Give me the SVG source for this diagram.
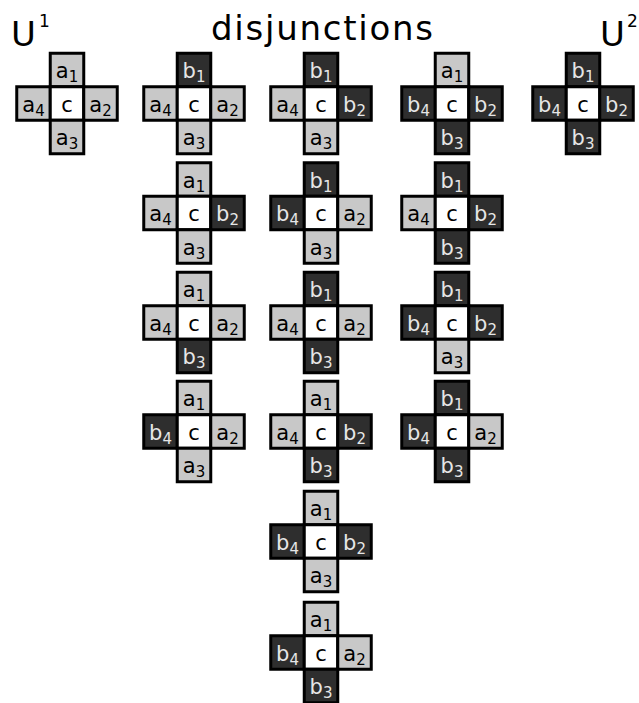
<svg xmlns="http://www.w3.org/2000/svg" width="639" height="703" viewBox="0 0 639 703">
<style>
text{font-family:"DejaVu Sans","Liberation Sans",sans-serif}
rect{stroke:#000;stroke-width:3}
.l{fill:#c8c8c8}
.d{fill:#2e2e2e}
.w{fill:#fff}
.c text{font-size:21px;text-anchor:middle}
.c text.t{fill:#000}
.c text.u{fill:#e6e6e6}
.s{font-size:15px}
.hd{font-size:34px;fill:#000}
.sp{font-size:17px;fill:#000}
</style>
<g id="titles">
<text class="hd" x="11" y="46">U</text><text class="sp" x="39" y="27">1</text>
<text x="322" y="40" style="font-size:34px;text-anchor:middle" textLength="222">disjunctions</text>
<text class="hd" x="600" y="46">U</text><text class="sp" x="627" y="27">2</text>
</g>
<g id="connectors"/>

<!-- column 1 -->
<g id="u1" class="c" transform="translate(67,103.5)">
<rect class="l" x="-16.75" y="-50.25" width="33.5" height="33.5"/><rect class="l" x="-50.25" y="-16.75" width="33.5" height="33.5"/><rect class="w" x="-16.75" y="-16.75" width="33.5" height="33.5"/><rect class="l" x="16.75" y="-16.75" width="33.5" height="33.5"/><rect class="l" x="-16.75" y="16.75" width="33.5" height="33.5"/>
<text class="t" x="0" y="-25.5">a<tspan class="s" dy="4">1</tspan></text><text class="t" x="-33.5" y="8">a<tspan class="s" dy="4">4</tspan></text><text class="t" x="0" y="8">c</text><text class="t" x="33.5" y="8">a<tspan class="s" dy="4">2</tspan></text><text class="t" x="0" y="41.5">a<tspan class="s" dy="4">3</tspan></text>
</g>

<!-- column 2 -->
<g id="c2r1" class="c" transform="translate(194,103.5)">
<rect class="d" x="-16.75" y="-50.25" width="33.5" height="33.5"/><rect class="l" x="-50.25" y="-16.75" width="33.5" height="33.5"/><rect class="w" x="-16.75" y="-16.75" width="33.5" height="33.5"/><rect class="l" x="16.75" y="-16.75" width="33.5" height="33.5"/><rect class="l" x="-16.75" y="16.75" width="33.5" height="33.5"/>
<text class="u" x="0" y="-25.5">b<tspan class="s" dy="4">1</tspan></text><text class="t" x="-33.5" y="8">a<tspan class="s" dy="4">4</tspan></text><text class="t" x="0" y="8">c</text><text class="t" x="33.5" y="8">a<tspan class="s" dy="4">2</tspan></text><text class="t" x="0" y="41.5">a<tspan class="s" dy="4">3</tspan></text>
</g>
<g id="c2r2" class="c" transform="translate(194,213)">
<rect class="l" x="-16.75" y="-50.25" width="33.5" height="33.5"/><rect class="l" x="-50.25" y="-16.75" width="33.5" height="33.5"/><rect class="w" x="-16.75" y="-16.75" width="33.5" height="33.5"/><rect class="d" x="16.75" y="-16.75" width="33.5" height="33.5"/><rect class="l" x="-16.75" y="16.75" width="33.5" height="33.5"/>
<text class="t" x="0" y="-25.5">a<tspan class="s" dy="4">1</tspan></text><text class="t" x="-33.5" y="8">a<tspan class="s" dy="4">4</tspan></text><text class="t" x="0" y="8">c</text><text class="u" x="33.5" y="8">b<tspan class="s" dy="4">2</tspan></text><text class="t" x="0" y="41.5">a<tspan class="s" dy="4">3</tspan></text>
</g>
<g id="c2r3" class="c" transform="translate(194,322.5)">
<rect class="l" x="-16.75" y="-50.25" width="33.5" height="33.5"/><rect class="l" x="-50.25" y="-16.75" width="33.5" height="33.5"/><rect class="w" x="-16.75" y="-16.75" width="33.5" height="33.5"/><rect class="l" x="16.75" y="-16.75" width="33.5" height="33.5"/><rect class="d" x="-16.75" y="16.75" width="33.5" height="33.5"/>
<text class="t" x="0" y="-25.5">a<tspan class="s" dy="4">1</tspan></text><text class="t" x="-33.5" y="8">a<tspan class="s" dy="4">4</tspan></text><text class="t" x="0" y="8">c</text><text class="t" x="33.5" y="8">a<tspan class="s" dy="4">2</tspan></text><text class="u" x="0" y="41.5">b<tspan class="s" dy="4">3</tspan></text>
</g>
<g id="c2r4" class="c" transform="translate(194,431.5)">
<rect class="l" x="-16.75" y="-50.25" width="33.5" height="33.5"/><rect class="d" x="-50.25" y="-16.75" width="33.5" height="33.5"/><rect class="w" x="-16.75" y="-16.75" width="33.5" height="33.5"/><rect class="l" x="16.75" y="-16.75" width="33.5" height="33.5"/><rect class="l" x="-16.75" y="16.75" width="33.5" height="33.5"/>
<text class="t" x="0" y="-25.5">a<tspan class="s" dy="4">1</tspan></text><text class="u" x="-33.5" y="8">b<tspan class="s" dy="4">4</tspan></text><text class="t" x="0" y="8">c</text><text class="t" x="33.5" y="8">a<tspan class="s" dy="4">2</tspan></text><text class="t" x="0" y="41.5">a<tspan class="s" dy="4">3</tspan></text>
</g>

<!-- column 3 -->
<g id="c3r1" class="c" transform="translate(321,103.5)">
<rect class="d" x="-16.75" y="-50.25" width="33.5" height="33.5"/><rect class="l" x="-50.25" y="-16.75" width="33.5" height="33.5"/><rect class="w" x="-16.75" y="-16.75" width="33.5" height="33.5"/><rect class="d" x="16.75" y="-16.75" width="33.5" height="33.5"/><rect class="l" x="-16.75" y="16.75" width="33.5" height="33.5"/>
<text class="u" x="0" y="-25.5">b<tspan class="s" dy="4">1</tspan></text><text class="t" x="-33.5" y="8">a<tspan class="s" dy="4">4</tspan></text><text class="t" x="0" y="8">c</text><text class="u" x="33.5" y="8">b<tspan class="s" dy="4">2</tspan></text><text class="t" x="0" y="41.5">a<tspan class="s" dy="4">3</tspan></text>
</g>
<g id="c3r2" class="c" transform="translate(321,213)">
<rect class="d" x="-16.75" y="-50.25" width="33.5" height="33.5"/><rect class="d" x="-50.25" y="-16.75" width="33.5" height="33.5"/><rect class="w" x="-16.75" y="-16.75" width="33.5" height="33.5"/><rect class="l" x="16.75" y="-16.75" width="33.5" height="33.5"/><rect class="l" x="-16.75" y="16.75" width="33.5" height="33.5"/>
<text class="u" x="0" y="-25.5">b<tspan class="s" dy="4">1</tspan></text><text class="u" x="-33.5" y="8">b<tspan class="s" dy="4">4</tspan></text><text class="t" x="0" y="8">c</text><text class="t" x="33.5" y="8">a<tspan class="s" dy="4">2</tspan></text><text class="t" x="0" y="41.5">a<tspan class="s" dy="4">3</tspan></text>
</g>
<g id="c3r3" class="c" transform="translate(321,322.5)">
<rect class="d" x="-16.75" y="-50.25" width="33.5" height="33.5"/><rect class="l" x="-50.25" y="-16.75" width="33.5" height="33.5"/><rect class="w" x="-16.75" y="-16.75" width="33.5" height="33.5"/><rect class="l" x="16.75" y="-16.75" width="33.5" height="33.5"/><rect class="d" x="-16.75" y="16.75" width="33.5" height="33.5"/>
<text class="u" x="0" y="-25.5">b<tspan class="s" dy="4">1</tspan></text><text class="t" x="-33.5" y="8">a<tspan class="s" dy="4">4</tspan></text><text class="t" x="0" y="8">c</text><text class="t" x="33.5" y="8">a<tspan class="s" dy="4">2</tspan></text><text class="u" x="0" y="41.5">b<tspan class="s" dy="4">3</tspan></text>
</g>
<g id="c3r4" class="c" transform="translate(321,431.5)">
<rect class="l" x="-16.75" y="-50.25" width="33.5" height="33.5"/><rect class="l" x="-50.25" y="-16.75" width="33.5" height="33.5"/><rect class="w" x="-16.75" y="-16.75" width="33.5" height="33.5"/><rect class="d" x="16.75" y="-16.75" width="33.5" height="33.5"/><rect class="d" x="-16.75" y="16.75" width="33.5" height="33.5"/>
<text class="t" x="0" y="-25.5">a<tspan class="s" dy="4">1</tspan></text><text class="t" x="-33.5" y="8">a<tspan class="s" dy="4">4</tspan></text><text class="t" x="0" y="8">c</text><text class="u" x="33.5" y="8">b<tspan class="s" dy="4">2</tspan></text><text class="u" x="0" y="41.5">b<tspan class="s" dy="4">3</tspan></text>
</g>
<g id="c3r5" class="c" transform="translate(321,541.5)">
<rect class="l" x="-16.75" y="-50.25" width="33.5" height="33.5"/><rect class="d" x="-50.25" y="-16.75" width="33.5" height="33.5"/><rect class="w" x="-16.75" y="-16.75" width="33.5" height="33.5"/><rect class="d" x="16.75" y="-16.75" width="33.5" height="33.5"/><rect class="l" x="-16.75" y="16.75" width="33.5" height="33.5"/>
<text class="t" x="0" y="-25.5">a<tspan class="s" dy="4">1</tspan></text><text class="u" x="-33.5" y="8">b<tspan class="s" dy="4">4</tspan></text><text class="t" x="0" y="8">c</text><text class="u" x="33.5" y="8">b<tspan class="s" dy="4">2</tspan></text><text class="t" x="0" y="41.5">a<tspan class="s" dy="4">3</tspan></text>
</g>
<g id="c3r6" class="c" transform="translate(321,652.5)">
<rect class="l" x="-16.75" y="-50.25" width="33.5" height="33.5"/><rect class="d" x="-50.25" y="-16.75" width="33.5" height="33.5"/><rect class="w" x="-16.75" y="-16.75" width="33.5" height="33.5"/><rect class="l" x="16.75" y="-16.75" width="33.5" height="33.5"/><rect class="d" x="-16.75" y="16.75" width="33.5" height="33.5"/>
<text class="t" x="0" y="-25.5">a<tspan class="s" dy="4">1</tspan></text><text class="u" x="-33.5" y="8">b<tspan class="s" dy="4">4</tspan></text><text class="t" x="0" y="8">c</text><text class="t" x="33.5" y="8">a<tspan class="s" dy="4">2</tspan></text><text class="u" x="0" y="41.5">b<tspan class="s" dy="4">3</tspan></text>
</g>

<!-- column 4 -->
<g id="c4r1" class="c" transform="translate(452,103.5)">
<rect class="l" x="-16.75" y="-50.25" width="33.5" height="33.5"/><rect class="d" x="-50.25" y="-16.75" width="33.5" height="33.5"/><rect class="w" x="-16.75" y="-16.75" width="33.5" height="33.5"/><rect class="d" x="16.75" y="-16.75" width="33.5" height="33.5"/><rect class="d" x="-16.75" y="16.75" width="33.5" height="33.5"/>
<text class="t" x="0" y="-25.5">a<tspan class="s" dy="4">1</tspan></text><text class="u" x="-33.5" y="8">b<tspan class="s" dy="4">4</tspan></text><text class="t" x="0" y="8">c</text><text class="u" x="33.5" y="8">b<tspan class="s" dy="4">2</tspan></text><text class="u" x="0" y="41.5">b<tspan class="s" dy="4">3</tspan></text>
</g>
<g id="c4r2" class="c" transform="translate(452,213)">
<rect class="d" x="-16.75" y="-50.25" width="33.5" height="33.5"/><rect class="l" x="-50.25" y="-16.75" width="33.5" height="33.5"/><rect class="w" x="-16.75" y="-16.75" width="33.5" height="33.5"/><rect class="d" x="16.75" y="-16.75" width="33.5" height="33.5"/><rect class="d" x="-16.75" y="16.75" width="33.5" height="33.5"/>
<text class="u" x="0" y="-25.5">b<tspan class="s" dy="4">1</tspan></text><text class="t" x="-33.5" y="8">a<tspan class="s" dy="4">4</tspan></text><text class="t" x="0" y="8">c</text><text class="u" x="33.5" y="8">b<tspan class="s" dy="4">2</tspan></text><text class="u" x="0" y="41.5">b<tspan class="s" dy="4">3</tspan></text>
</g>
<g id="c4r3" class="c" transform="translate(452,322.5)">
<rect class="d" x="-16.75" y="-50.25" width="33.5" height="33.5"/><rect class="d" x="-50.25" y="-16.75" width="33.5" height="33.5"/><rect class="w" x="-16.75" y="-16.75" width="33.5" height="33.5"/><rect class="d" x="16.75" y="-16.75" width="33.5" height="33.5"/><rect class="l" x="-16.75" y="16.75" width="33.5" height="33.5"/>
<text class="u" x="0" y="-25.5">b<tspan class="s" dy="4">1</tspan></text><text class="u" x="-33.5" y="8">b<tspan class="s" dy="4">4</tspan></text><text class="t" x="0" y="8">c</text><text class="u" x="33.5" y="8">b<tspan class="s" dy="4">2</tspan></text><text class="t" x="0" y="41.5">a<tspan class="s" dy="4">3</tspan></text>
</g>
<g id="c4r4" class="c" transform="translate(452,431.5)">
<rect class="d" x="-16.75" y="-50.25" width="33.5" height="33.5"/><rect class="d" x="-50.25" y="-16.75" width="33.5" height="33.5"/><rect class="w" x="-16.75" y="-16.75" width="33.5" height="33.5"/><rect class="l" x="16.75" y="-16.75" width="33.5" height="33.5"/><rect class="d" x="-16.75" y="16.75" width="33.5" height="33.5"/>
<text class="u" x="0" y="-25.5">b<tspan class="s" dy="4">1</tspan></text><text class="u" x="-33.5" y="8">b<tspan class="s" dy="4">4</tspan></text><text class="t" x="0" y="8">c</text><text class="t" x="33.5" y="8">a<tspan class="s" dy="4">2</tspan></text><text class="u" x="0" y="41.5">b<tspan class="s" dy="4">3</tspan></text>
</g>

<!-- column 5 -->
<g id="u2" class="c" transform="translate(583,103.5)">
<rect class="d" x="-16.75" y="-50.25" width="33.5" height="33.5"/><rect class="d" x="-50.25" y="-16.75" width="33.5" height="33.5"/><rect class="w" x="-16.75" y="-16.75" width="33.5" height="33.5"/><rect class="d" x="16.75" y="-16.75" width="33.5" height="33.5"/><rect class="d" x="-16.75" y="16.75" width="33.5" height="33.5"/>
<text class="u" x="0" y="-25.5">b<tspan class="s" dy="4">1</tspan></text><text class="u" x="-33.5" y="8">b<tspan class="s" dy="4">4</tspan></text><text class="t" x="0" y="8">c</text><text class="u" x="33.5" y="8">b<tspan class="s" dy="4">2</tspan></text><text class="u" x="0" y="41.5">b<tspan class="s" dy="4">3</tspan></text>
</g>
</svg>
